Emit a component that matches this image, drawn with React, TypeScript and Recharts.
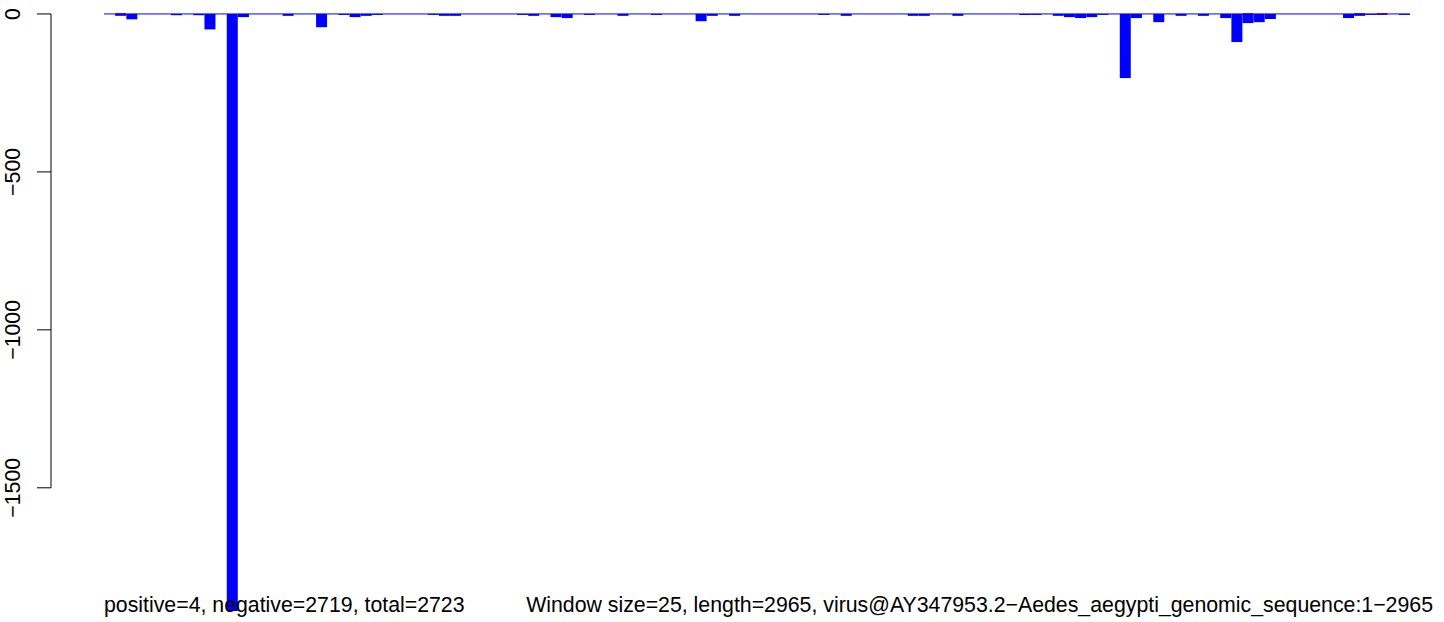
import { BarChart, Bar, XAxis, YAxis, ReferenceLine } from 'recharts'

// one bar per 25-nt window along the sequence (117 windows drawn)
const negative = [
  0, -6, -17, 0, 0, 0, -4, 0, -4, -49,
  0, -1890, -10, 0, 0, 0, -6, 0, 0, -42,
  0, -3, -10, -6, -3, 0, 0, 0, 0, -3,
  -6, -6, 0, 0, 0, 0, 0, -3, -6, 0,
  -10, -13, 0, -3, 0, 0, -6, 0, 0, -3,
  0, 0, 0, -23, -6, 0, -6, 0, 0, 0,
  0, 0, 0, 0, -3, 0, -6, 0, 0, 0,
  0, 0, -6, -6, 0, 0, -6, 0, 0, 0,
  0, 0, -3, -3, 0, -6, -10, -13, -10, -3,
  0, -203, -13, 0, -26, 0, -6, 0, -6, 0,
  -13, -89, -29, -26, -16, 0, 0, 0, 0, 0,
  0, -13, -6, -3, -3, 0, -3,
]
const positive = negative.map(() => 0)
const positiveWindows = [1, 102, 112, 114]
positiveWindows.forEach((i) => { positive[i] = 3 })

const Y_TICKS = [0, -500, -1000, -1500]
const Y_MIN = -1890
const Y_MAX = 3
const FOOTER_LEFT = 'positive=4, negative=2719, total=2723'
const FOOTER_RIGHT = 'Window size=25, length=2965, virus@AY347953.2\u2212Aedes_aegypti_genomic_sequence:1\u22122965'

const W = 1444
const H = 622
const MARGIN = { top: 13, right: 34, bottom: 11, left: 0 }
const PX_PER_UNIT = (H - MARGIN.top - MARGIN.bottom) / (Y_MAX - Y_MIN)
const FONT = '"Liberation Sans", Arial, Helvetica, sans-serif'

const data = negative.map((v, i) => ({ win: i + 1, neg: v, pos: positive[i] }))

// R-style axis: tick, rotated label, spine only between first and last tick
function YTick(props: any) {
  const { y, payload } = props
  const v = payload.value as number
  const step = Y_TICKS[0] - Y_TICKS[1]
  return (
    <g>
      <line x1={37} x2={51} y1={y} y2={y} stroke="#000" strokeWidth={1} />
      {v < 0 && <line x1={51} x2={51} y1={y} y2={y - step * PX_PER_UNIT} stroke="#000" strokeWidth={1} />}
      <text
        x={20}
        y={y}
        transform={`rotate(-90 20 ${y})`}
        textAnchor="middle"
        fontSize={21.3}
        fontFamily={FONT}
        fill="#000"
      >
        {String(v).replace('-', '\u2212')}
      </text>
    </g>
  )
}

export default function App() {
  return (
    <div style={{ position: 'fixed', left: 0, top: 0, width: W, height: H, background: '#fff' }}>
      <BarChart width={W} height={H} data={data} margin={MARGIN} barCategoryGap={0} barGap={0} stackOffset="sign">
        <XAxis dataKey="win" hide />
        <YAxis
          width={104}
          type="number"
          domain={[Y_MIN, Y_MAX]}
          ticks={Y_TICKS}
          interval={0}
          axisLine={false}
          tickLine={false}
          tick={(p: any) => <YTick {...p} />}
        />
        <Bar dataKey="neg" stackId="w" fill="#0000ff" isAnimationActive={false} />
        <Bar dataKey="pos" stackId="w" fill="#ff0000" isAnimationActive={false} />
        <ReferenceLine y={0} stroke="#0000ff" strokeWidth={1} />
      </BarChart>
      <svg width={W} height={H} style={{ position: 'absolute', left: 0, top: 0, pointerEvents: 'none' }}>
        <text x={104} y={612} fontSize={21.3} fontFamily={FONT} fill="#000">{FOOTER_LEFT}</text>
        <text x={1433} y={612} textAnchor="end" fontSize={21.3} fontFamily={FONT} fill="#000">{FOOTER_RIGHT}</text>
      </svg>
    </div>
  )
}
